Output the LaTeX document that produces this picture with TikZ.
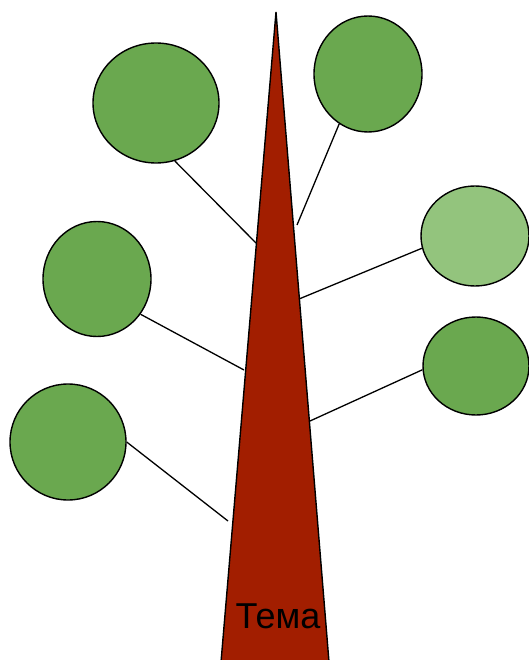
\documentclass[tikz,border=0pt]{standalone}
\usepackage{fontspec}
\setmainfont{Liberation Sans}
\usetikzlibrary{shapes.geometric}
\definecolor{trunkred}{HTML}{A21E00}
\definecolor{leafgreen}{HTML}{6AA84F}
\definecolor{leaflight}{HTML}{93C47D}
\tikzset{
  leaf/.style={ellipse,draw=black,line width=1.4pt,fill=leafgreen,inner sep=0pt},
  twig/.style={line width=1.3pt}
}
\begin{document}
\begin{tikzpicture}[x=1pt,y=-1pt]
 \useasboundingbox (0,0) rectangle (529,660);
 % trunk
 \fill[trunkred] (276,12)--(329,662)--(221,662)--cycle;
 \draw[line width=1.4pt] (221,662)--(276,12)--(329,662);
 \node[font=\fontsize{36}{40}\selectfont] (topic) at (278,616) {Тема};
 % leaves
 \node[leaf,minimum width=126pt,minimum height=120pt] (c1) at (156,103) {};
 \node[leaf,minimum width=108pt,minimum height=116pt] (c2) at (368,74) {};
 \node[leaf,minimum width=108pt,minimum height=115pt] (c3) at (97,279) {};
 \node[leaf,fill=leaflight,minimum width=108pt,minimum height=100pt] (c4) at (475,236) {};
 \node[leaf,minimum width=106pt,minimum height=98pt] (c5) at (476,366) {};
 \node[leaf,minimum width=116pt,minimum height=116pt] (c6) at (68,442) {};
 % points on the trunk
 \coordinate (t1) at (256,243);
 \coordinate (t2) at (297,225);
 \coordinate (t3) at (244,370);
 \coordinate (t4) at (299,299);
 \coordinate (t5) at (310,421);
 \coordinate (t6) at (228,521);
 % twigs
 \draw[twig] (c1.-72)--(t1);
 \draw[twig] (c2.240)--(t2);
 \draw[twig] (c3.-39)--(t3);
 \draw[twig] (c4.193)--(t4);
 \draw[twig] (c5.184)--(t5);
 \draw[twig] (c6.0)--(t6);
\end{tikzpicture}
\end{document}
